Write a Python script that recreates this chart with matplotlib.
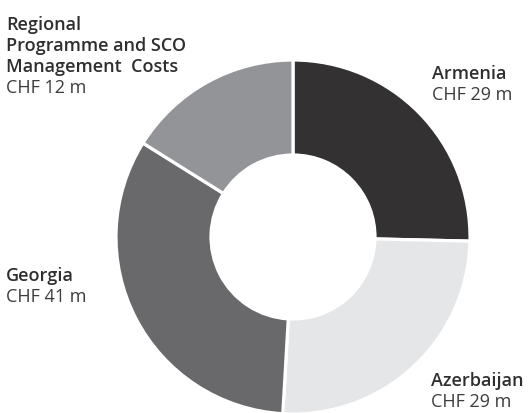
import matplotlib
matplotlib.use('Agg')
import matplotlib.pyplot as plt

names = ['Armenia', 'Azerbaijan', 'Georgia', 'Regional\nProgramme and SCO\nManagement  Costs']
amounts = [29, 29, 41, 12]
sizes = [29.0, 29.2, 37.7, 18.4]
colors = ['#333132', '#e5e6e7', '#69696b', '#939497']

W, H = 530, 414
fig = plt.figure(figsize=(W / 100, H / 100), dpi=100)
ax = fig.add_axes([0, 0, 1, 1])

cx, cy = 293, H - 238
ax.pie(sizes, colors=colors, startangle=90, counterclock=False,
       center=(cx, cy), radius=177,
       wedgeprops=dict(width=95, edgecolor='white', linewidth=2.3))

ax.set_xlim(0, W)
ax.set_ylim(0, H)
ax.set_aspect('equal')
ax.axis('off')

# label anchors: (x, baseline of last line) in pixels from top-left
label_pos = [(432, 100), (431, 407), (6, 302), (6, 93)]
fs = 13
for name, amt, (x, yb) in zip(names, amounts, label_pos):
    ax.text(x, H - yb, 'CHF %d m' % amt, fontsize=fs, family='Open Sans',
            color='#3d3d3d', ha='left', va='baseline')
    ax.text(x, H - yb + 21, name, fontsize=fs, family='Open Sans',
            weight='semibold', color='#2e2e2e', ha='left', va='baseline',
            linespacing=1.2)

fig.savefig('out.png', dpi=100)
